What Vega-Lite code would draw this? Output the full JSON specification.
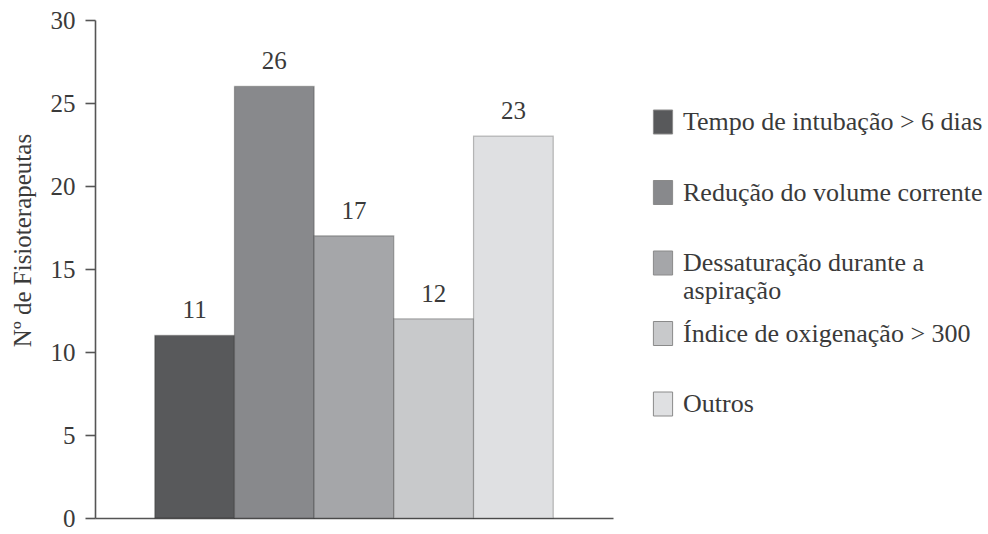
{
  "$schema": "https://vega.github.io/schema/vega-lite/v6.json",
  "width": 518,
  "height": 498,
  "autosize": {"type": "none"},
  "padding": {"left": 95, "top": 20, "right": 375, "bottom": 16},
  "background": "white",
  "config": {
    "view": {"stroke": null},
    "font": "Liberation Serif",
    "text": {"font": "Liberation Serif"}
  },
  "data": {
    "values": [
      {"cat": "Tempo de intubação > 6 dias", "n": 11},
      {"cat": "Redução do volume corrente", "n": 26},
      {"cat": "Dessaturação durante a aspiração", "n": 17},
      {"cat": "Índice de oxigenação > 300", "n": 12},
      {"cat": "Outros", "n": 23}
    ]
  },
  "encoding": {
    "x": {
      "field": "cat",
      "type": "nominal",
      "sort": null,
      "scale": {"paddingInner": 0, "paddingOuter": 0.75},
      "axis": {"labels": false, "ticks": false, "title": null, "domainColor": "#555555", "domainWidth": 1.6, "grid": false}
    },
    "y": {
      "field": "n",
      "type": "quantitative",
      "scale": {"domain": [0, 30], "nice": false},
      "axis": {
        "values": [0, 5, 10, 15, 20, 25, 30],
        "grid": false,
        "title": "Nº de Fisioterapeutas",
        "titleFont": "Liberation Serif",
        "titleFontSize": 25,
        "titleFontWeight": "normal",
        "titleColor": "#3a3a3a",
        "titleX": -73,
        "titleY": 220,
        "titleBaseline": "middle",
        "titleAlign": "center",
        "titleAngle": 270,
        "labelFont": "Liberation Serif",
        "labelFontSize": 25,
        "labelColor": "#3a3a3a",
        "labelPadding": 10,
        "tickSize": 10,
        "tickColor": "#555555",
        "tickWidth": 1.6,
        "domainColor": "#555555",
        "domainWidth": 1.6
      }
    }
  },
  "layer": [
    {
      "mark": {"type": "bar", "stroke": "#000000", "strokeOpacity": 0.25, "strokeWidth": 1.2},
      "encoding": {
        "color": {
          "field": "cat",
          "type": "nominal",
          "sort": null,
          "scale": {"range": ["#58595b", "#88898c", "#a5a6a9", "#c8c9cb", "#dfe0e2"]},
          "legend": {
            "title": null,
            "orient": "none",
            "legendX": 555,
            "legendY": 89,
            "padding": 0,
            "gridAlign": "all",
            "symbolType": "M-0.8,-1H0.8V1H-0.8Z",
            "symbolSize": 576,
            "symbolStrokeColor": "#8a8a8a",
            "symbolStrokeWidth": 1,
            "labelFont": "Liberation Serif",
            "labelFontSize": 26,
            "labelColor": "#3a3a3a",
            "labelOffset": 7,
            "labelLimit": 0,
            "rowPadding": 15.5,
            "labelExpr": "datum.label == 'Dessaturação durante a aspiração' ? ['Dessaturação durante a', 'aspiração'] : datum.label"
          }
        }
      }
    },
    {
      "mark": {"type": "text", "baseline": "bottom", "dy": -12, "fontSize": 25, "color": "#3a3a3a", "font": "Liberation Serif"},
      "encoding": {
        "text": {"field": "n", "type": "quantitative"}
      }
    }
  ]
}
